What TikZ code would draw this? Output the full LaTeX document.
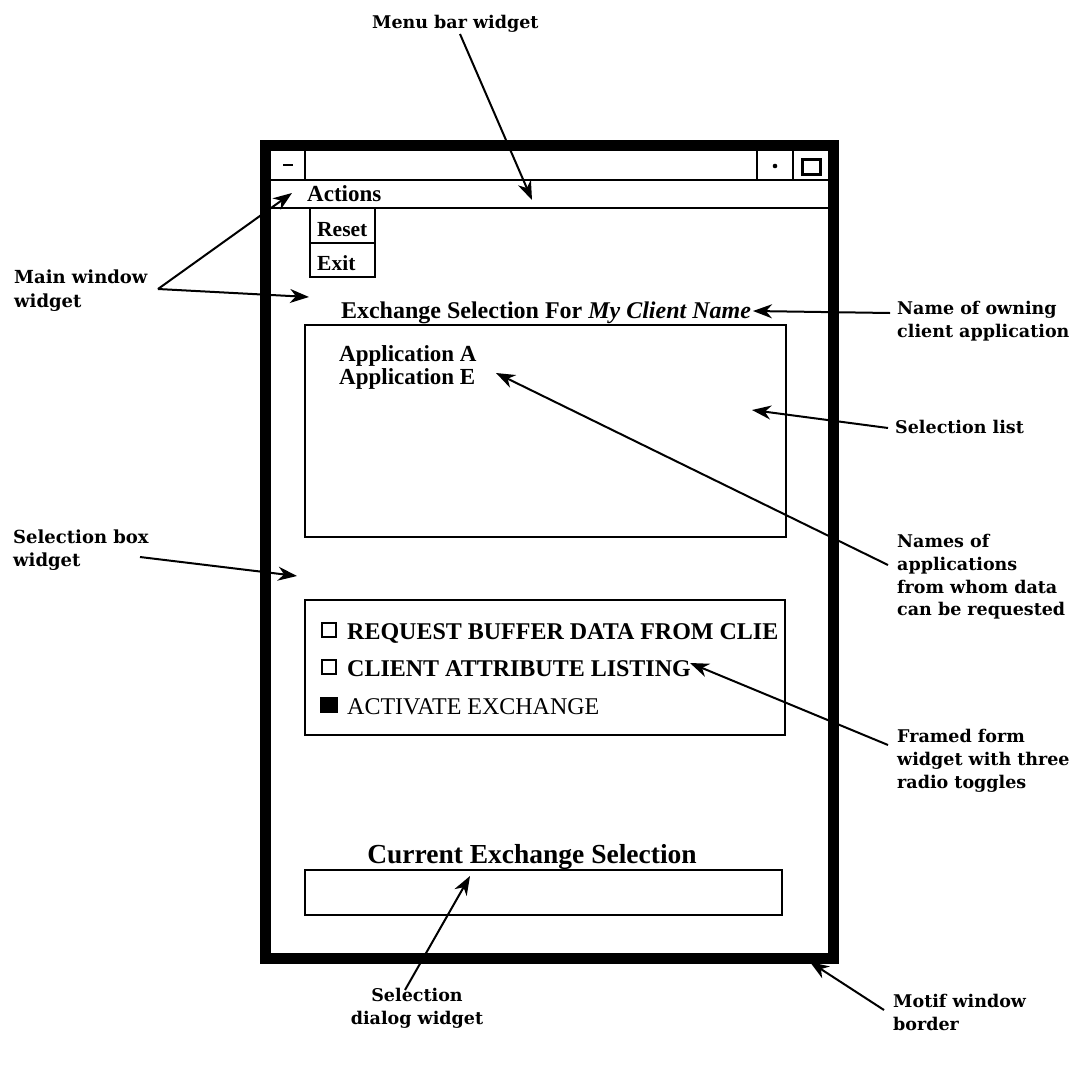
\documentclass[tikz,border=0pt]{standalone}
\usepackage{fontspec}
\setmainfont{Liberation Serif}
\newfontfamily\lblfont{DejaVu Serif}
\usetikzlibrary{arrows.meta}
\begin{document}
\begin{tikzpicture}[x=1pt,y=-1pt,
  win/.style={inner sep=0pt,font=\fontsize{23}{26}\selectfont\bfseries},
  lbl/.style={inner sep=0pt,align=left,font=\lblfont\fontsize{17.5}{22.8}\selectfont\bfseries},
  thinline/.style={line width=1.6pt},
  callout/.style={line width=2pt,-{Stealth[length=19pt,width=14pt,inset=6pt]}}]
\useasboundingbox[fill=white] (0,0) rectangle (1071,1076);
% window frame
\draw[line width=11pt] (265,145) rectangle (833,958);
\draw[thinline] (270,180) -- (828,180);
\draw[thinline] (270,208) -- (828,208);
\draw[thinline] (305,150) -- (305,180);
\draw[thinline] (757,150) -- (757,180);
\draw[thinline] (793,150) -- (793,180);
\draw[line width=2.5pt] (283,165) -- (293,165);
\fill (775,166) circle (2.3);
\draw[line width=3pt] (802,159) rectangle (820,174);
% menu
\node[win,anchor=base west] (actions) at (307,201) {Actions};
\draw[thinline] (310,208) rectangle (375,243);
\draw[thinline] (310,243) rectangle (375,277);
\node[win,anchor=base west,font=\fontsize{21.5}{24}\selectfont\bfseries] (reset) at (317,236) {Reset};
\node[win,anchor=base west,font=\fontsize{21.5}{24}\selectfont\bfseries] (exit) at (317,270) {Exit};
% title
\node[win,anchor=base,font=\fontsize{24}{27}\selectfont\bfseries] (xtitle) at (546,318) {Exchange Selection For \textit{My Client Name}};
% selection list
\draw[thinline] (305,325) rectangle (786,537);
\node[win,anchor=base west] (appa) at (339,361) {Application A};
\node[win,anchor=base west] (appe) at (339,384) {Application E};
% toggles
\draw[thinline] (305,600) rectangle (785,735);
\draw[line width=2.5pt] (322,623) rectangle (336,637);
\draw[line width=2.5pt] (322,660) rectangle (336,674);
\fill (320,697) rectangle (338,713);
\node[win,anchor=base west,font=\fontsize{24}{27}\selectfont\bfseries] (t1) at (347,639) {REQUEST BUFFER DATA FROM CLIE};
\node[win,anchor=base west,font=\fontsize{24}{27}\selectfont\bfseries] (t2) at (347,676) {CLIENT ATTRIBUTE LISTING};
\node[win,anchor=base west,font=\fontsize{24}{27}\selectfont] (t3) at (347,714) {ACTIVATE EXCHANGE};
% current selection
\node[win,anchor=base,font=\fontsize{27.5}{30}\selectfont\bfseries] (cur) at (532,863) {Current Exchange Selection};
\draw[thinline] (305,870) rectangle (782,915);
% labels
\node[lbl,anchor=base west] (lmenu) at (372,28) {Menu bar widget};
\node[lbl,anchor=north west,font=\lblfont\fontsize{18}{24}\selectfont\bfseries] (lmain) at (14,270) {Main window\\widget};
\node[lbl,anchor=north west] (lown) at (897,301) {Name of owning\\client application};
\node[lbl,anchor=west] (llist) at (895,427) {Selection list};
\node[lbl,anchor=north west] (lnames) at (897,534) {Names of\\applications\\from whom data\\can be requested};
\node[lbl,anchor=north west,font=\lblfont\fontsize{18}{23}\selectfont\bfseries] (lbox) at (13,530) {Selection box\\widget};
\node[lbl,anchor=north west] (lframed) at (897,729) {Framed form\\widget with three\\radio toggles};
\node[lbl,anchor=north,align=center] (ldialog) at (417,988) {Selection\\dialog widget};
\node[lbl,anchor=north west] (lmotif) at (893,994) {Motif window\\border};
% callout coordinates
\coordinate (sMenu) at (460,34);   \coordinate (eMenu) at (532,200);
\coordinate (sMain) at (158,289);  \coordinate (eMain1) at (292,193); \coordinate (eMain2) at (309,297);
\coordinate (sOwn) at (890,313);   \coordinate (eOwn) at (753,311);
\coordinate (sList) at (888,428);  \coordinate (eList) at (752,410);
\coordinate (sNames) at (888,565); \coordinate (eNames) at (496,373);
\coordinate (sBox) at (140,557);   \coordinate (eBox) at (297,576);
\coordinate (sFramed) at (888,745); \coordinate (eFramed) at (690,663);
\coordinate (sDialog) at (405,990); \coordinate (eDialog) at (470,876);
\coordinate (sMotif) at (884,1010); \coordinate (eMotif) at (810,962);
\draw[callout] (sMenu) -- (eMenu);
\draw[callout] (sMain) -- (eMain1);
\draw[callout] (sMain) -- (eMain2);
\draw[callout] (sOwn) -- (eOwn);
\draw[callout] (sList) -- (eList);
\draw[callout] (sNames) -- (eNames);
\draw[callout] (sBox) -- (eBox);
\draw[callout] (sFramed) -- (eFramed);
\draw[callout] (sDialog) -- (eDialog);
\draw[callout] (sMotif) -- (eMotif);
\end{tikzpicture}
\end{document}
